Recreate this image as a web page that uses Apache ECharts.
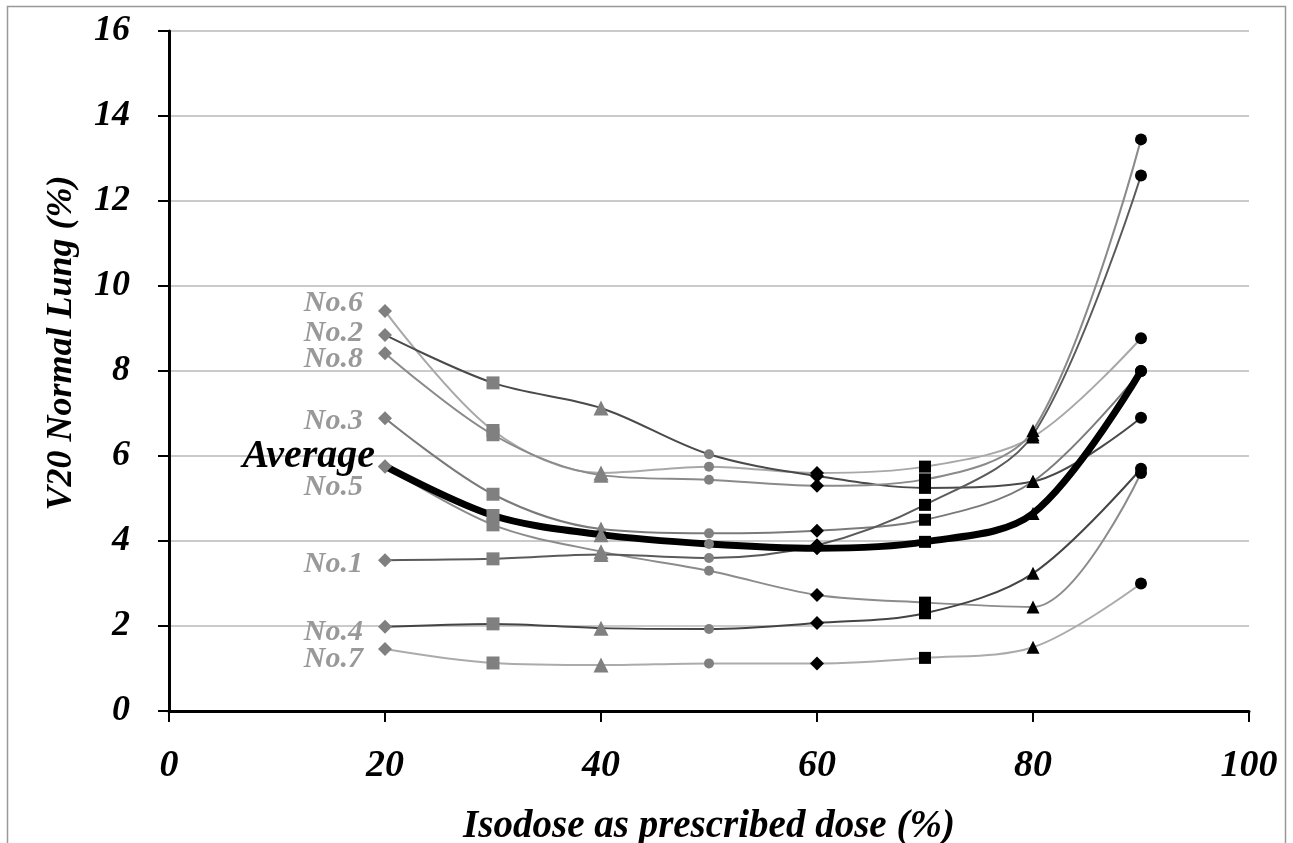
<!DOCTYPE html>
<html>
<head>
<meta charset="utf-8">
<script src="https://cdn.jsdelivr.net/npm/echarts@6/dist/echarts.min.js"></script>
<style>
html,body{margin:0;padding:0;background:#fff;}
#chart{width:1293px;height:843px;}
</style>
</head>
<body>
<div id="chart"></div>
<script>
const xValues = [20, 30, 40, 50, 60, 70, 80, 90];
const no1 = [3.55, 3.58, 3.68, 3.60, 3.90, 4.85, 6.50, 12.60];
const no2 = [8.85, 7.72, 7.13, 6.04, 5.53, 5.25, 5.40, 6.90];
const no3 = [6.89, 5.10, 4.28, 4.18, 4.24, 4.50, 5.40, 8.00];
const no4 = [1.98, 2.05, 1.95, 1.93, 2.07, 2.30, 3.24, 5.70];
const no5 = [5.75, 4.38, 3.75, 3.30, 2.73, 2.55, 2.45, 5.60];
const no6 = [9.41, 6.60, 5.60, 5.75, 5.60, 5.75, 6.45, 8.77];
const no7 = [1.46, 1.13, 1.08, 1.12, 1.12, 1.25, 1.50, 3.00];
const no8 = [8.42, 6.50, 5.55, 5.44, 5.30, 5.45, 6.60, 13.45];
const average = [5.76, 4.60, 4.15, 3.93, 3.83, 3.98, 4.65, 8.00];
const yTicks = [0, 2, 4, 6, 8, 10, 12, 14, 16];
const xTitle = 'Isodose as prescribed dose (%)';
const yTitle = 'V20 Normal Lung (%)';

// marker style per x position (index)
const markerStyles = [
  {symbol: 'diamond', size: 14, color: '#808080'},
  {symbol: 'rect', size: 13, color: '#808080'},
  {symbol: 'triangle', size: 15, color: '#808080'},
  {symbol: 'circle', size: 10, color: '#808080'},
  {symbol: 'diamond', size: 14, color: '#000000'},
  {symbol: 'rect', size: 12, color: '#000000'},
  {symbol: 'triangle', size: 13, color: '#000000'},
  {symbol: 'circle', size: 12, color: '#000000'}
];

const seriesDefs = [
  {name: 'No.6', values: no6, color: '#a8a8a8', width: 2, labelOffset: [0, -8]},
  {name: 'No.2', values: no2, color: '#4a4a4a', width: 2, labelOffset: [0, -2]},
  {name: 'No.8', values: no8, color: '#8a8a8a', width: 2, labelOffset: [0, 6]},
  {name: 'No.3', values: no3, color: '#7a7a7a', width: 2, labelOffset: [0, 3]},
  {name: 'No.5', values: no5, color: '#8c8c8c', width: 2, labelOffset: [0, 21]},
  {name: 'No.1', values: no1, color: '#5a5a5a', width: 2, labelOffset: [0, 4]},
  {name: 'No.4', values: no4, color: '#444444', width: 2, labelOffset: [0, 5]},
  {name: 'No.7', values: no7, color: '#ababab', width: 2, labelOffset: [0, 10]},
  {name: 'Average', values: average, color: '#000000', width: 7, labelOffset: [0, -10], avg: true}
];

const fontFam = '"Liberation Serif", "DejaVu Serif", serif';

const series = seriesDefs.map((d, si) => ({
  name: d.name,
  type: 'line',
  smooth: 0.33,
  z: d.avg ? 5 : 2,
  lineStyle: {color: d.color, width: d.width},
  showAllSymbol: true,
  data: d.values.map((v, i) => {
    const m = markerStyles[i];
    const item = {
      value: [xValues[i], v],
      symbol: m.symbol,
      symbolSize: m.size,
      itemStyle: {color: m.color}
    };
    if (i === 0) {
      item.label = {
        show: true,
        position: 'left',
        distance: d.avg ? 3 : 15,
        offset: d.labelOffset,
        formatter: d.name,
        fontFamily: fontFam,
        fontStyle: 'italic',
        fontWeight: 'bold',
        fontSize: d.avg ? 40 : 30,
        color: d.avg ? '#000000' : '#999999'
      };
    }
    return item;
  })
}));

const chart = echarts.init(document.getElementById('chart'), null, {renderer: 'canvas'});
chart.setOption({
  animation: false,
  backgroundColor: '#ffffff',
  graphic: [{
    type: 'rect',
    shape: {x: 7.5, y: 6.5, width: 1278, height: 850},
    style: {fill: 'none', stroke: '#999999', lineWidth: 1.5},
    silent: true,
    z: -10
  }],
  grid: {left: 169, right: 44, top: 31, bottom: 132, containLabel: false, outerBoundsMode: 'none'},
  xAxis: {
    type: 'value',
    min: 0, max: 100, interval: 20,
    axisLine: {show: true, onZero: false, lineStyle: {color: '#000', width: 3}},
    axisTick: {show: true, length: 11, lineStyle: {color: '#000', width: 2}},
    splitLine: {show: false},
    axisLabel: {
      margin: 36, color: '#000', fontFamily: fontFam, fontStyle: 'italic', fontWeight: 'bold', fontSize: 38
    },
    name: xTitle,
    nameLocation: 'middle',
    nameGap: 96,
    nameTextStyle: {color: '#000', fontFamily: fontFam, fontStyle: 'italic', fontWeight: 'bold', fontSize: 39}
  },
  yAxis: {
    type: 'value',
    min: 0, max: 16, interval: 2,
    axisLine: {show: true, onZero: false, lineStyle: {color: '#000', width: 3}},
    axisTick: {show: true, length: 11, lineStyle: {color: '#000', width: 2}},
    splitLine: {show: true, lineStyle: {color: '#b8b8b8', width: 1.5}},
    axisLabel: {
      margin: 39, color: '#000', fontFamily: fontFam, fontStyle: 'italic', fontWeight: 'bold', fontSize: 36,
      formatter: v => yTicks.includes(v) ? String(v) : ''
    },
    name: yTitle,
    nameLocation: 'middle',
    nameGap: 89,
    nameRotate: 90,
    nameTextStyle: {color: '#000', fontFamily: fontFam, fontStyle: 'italic', fontWeight: 'bold', fontSize: 36, padding: [0, 0, 0, 56]}
  },
  series: series
});
</script>
</body>
</html>
